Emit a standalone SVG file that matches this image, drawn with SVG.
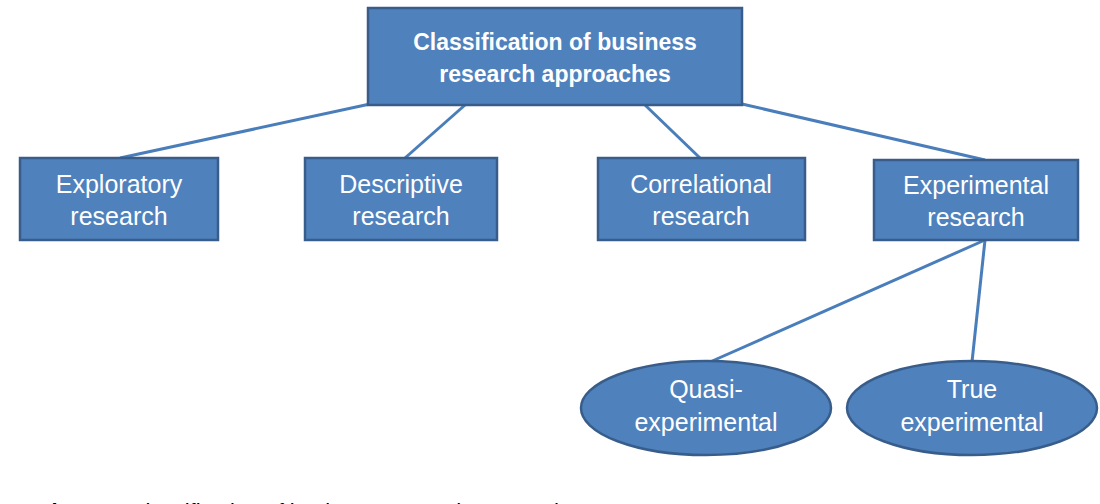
<svg xmlns="http://www.w3.org/2000/svg" width="1100" height="504" viewBox="0 0 1100 504">
<style>
.box{fill:#4F81BD;stroke:#385D8A;stroke-width:2.5}
.t{fill:#FFFFFF;font-family:"Liberation Sans",Arial,sans-serif;font-size:25px;text-anchor:middle}
.tb{fill:#FFFFFF;font-family:"Liberation Sans",Arial,sans-serif;font-size:23px;font-weight:bold;text-anchor:middle}
.conn{stroke:#4A7EBB;stroke-width:3;fill:none}
.cap{fill:#000000;font-family:"Liberation Sans",Arial,sans-serif;font-size:22px}
</style>
<rect width="1100" height="504" fill="#FFFFFF"/>
<g id="connectors">
<line class="conn" x1="120" y1="158" x2="370" y2="104"/>
<line class="conn" x1="405" y1="158" x2="465" y2="105"/>
<line class="conn" x1="700" y1="158" x2="645" y2="105"/>
<line class="conn" x1="985" y1="160" x2="742" y2="104"/>
<line class="conn" x1="985" y1="240" x2="710" y2="362"/>
<line class="conn" x1="985" y1="240" x2="972" y2="362"/>
</g>
<g id="root">
<rect class="box" x="368" y="8" width="374" height="97"/>
<text class="tb" x="555" y="50">Classification of business</text>
<text class="tb" x="555" y="82">research approaches</text>
</g>
<g id="exploratory">
<rect class="box" x="20" y="158" width="198" height="82"/>
<text class="t" x="119" y="193">Exploratory</text>
<text class="t" x="119" y="225">research</text>
</g>
<g id="descriptive">
<rect class="box" x="305" y="158" width="192" height="82"/>
<text class="t" x="401" y="193">Descriptive</text>
<text class="t" x="401" y="225">research</text>
</g>
<g id="correlational">
<rect class="box" x="598" y="158" width="207" height="82"/>
<text class="t" x="701" y="193">Correlational</text>
<text class="t" x="701" y="225">research</text>
</g>
<g id="experimental">
<rect class="box" x="874" y="160" width="204" height="80"/>
<text class="t" x="976" y="194">Experimental</text>
<text class="t" x="976" y="226">research</text>
</g>
<g id="quasi">
<ellipse class="box" cx="706" cy="408" rx="125" ry="47"/>
<text class="t" x="706" y="398">Quasi-</text>
<text class="t" x="706" y="431">experimental</text>
</g>
<g id="true">
<ellipse class="box" cx="972" cy="408" rx="125" ry="47"/>
<text class="t" x="972" y="398">True</text>
<text class="t" x="972" y="431">experimental</text>
</g>
<text class="cap" x="38" y="519"><tspan font-weight="bold">Figure 2</tspan> Classification of business research approaches</text>
</svg>
